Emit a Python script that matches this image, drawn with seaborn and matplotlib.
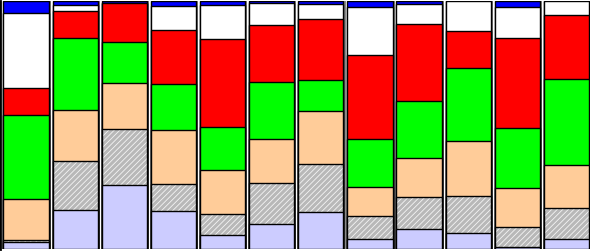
import numpy as np
import pandas as pd
import matplotlib
matplotlib.use("Agg")
import matplotlib.pyplot as plt
import matplotlib.colors as mcolors
import seaborn as sns

# one bar per group, segments listed bottom -> top
bars = ["1", "2", "3", "4", "5", "6", "7", "8", "9", "10", "11", "12"]
lavender = [7, 39, 64, 38, 14, 25, 37, 10, 20, 16, 2, 10]
hatched = [2, 49, 56, 27, 21, 41, 48, 23, 32, 37, 20, 31]
peach = [41, 51, 46, 54, 44, 44, 53, 29, 39, 55, 39, 43]
green = [84, 72, 41, 46, 43, 57, 31, 48, 56, 73, 60, 86]
red = [27, 27, 39, 54, 88, 57, 61, 84, 77, 37, 90, 64]
white = [75, 6, 0, 24, 34, 22, 15, 48, 20, 30, 31, 14]
blue = [12, 4, 2, 5, 4, 2, 3, 6, 3, 0, 6, 0]

layers = [("lavender", lavender, "#ccccff"),
          ("hatched", hatched, "#b8b8b8"),
          ("peach", peach, "#ffcc99"),
          ("green", green, "#00ff00"),
          ("red", red, "#ff0000"),
          ("white", white, "#ffffff"),
          ("blue", blue, "#0000ff")]

df = pd.DataFrame({name: vals for name, vals, _ in layers}, index=bars)
df = df.div(df.sum(axis=1), axis=0) * 100
cum = df.cumsum(axis=1)
cum["bar"] = bars

plt.rcParams["hatch.linewidth"] = 0.6
fig = plt.figure(figsize=(5.9, 2.52), dpi=100)
ax = fig.add_axes([0, 3 / 252, 1, 248 / 252])

# grey drop shadow to the right of each bar
sns.barplot(data=cum, x="bar", y="blue", order=bars, color="#8a8a8a",
            width=0.92, linewidth=0, saturation=1, ax=ax)
for p in ax.patches:
    p.set_x(p.get_x() + 0.045)

# draw the cumulative totals from the top layer down so each covers the one above
for name, _, col in reversed(layers):
    before = len(ax.patches)
    sns.barplot(data=cum, x="bar", y=name, order=bars, color=col,
                width=0.92, edgecolor="black", linewidth=1, saturation=1, ax=ax)
    if name == "hatched":
        for p in ax.patches[before:]:
            p.set_hatch("//////")
            p._hatch_color = mcolors.to_rgba("#f4f4f4")

ax.set_xlim(-0.53, 11.48)
ax.set_ylim(0, 100)
ax.set_xlabel("")
ax.set_ylabel("")
ax.set_xticks([])
ax.set_yticks([])
for s in ["top", "right", "bottom"]:
    ax.spines[s].set_visible(False)
ax.spines["left"].set_linewidth(2)

fig.savefig("out.png", dpi=100)
